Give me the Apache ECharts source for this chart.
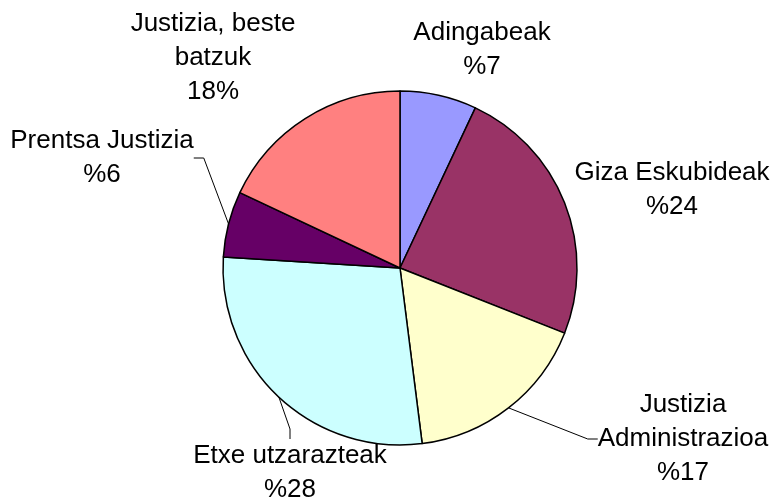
<!DOCTYPE html>
<html>
<head>
<meta charset="utf-8">
<script src="https://cdn.jsdelivr.net/npm/echarts@6/dist/echarts.min.js"></script>
<style>
html,body{margin:0;padding:0;background:#fff;}
#chart{width:774px;height:500px;}
</style>
</head>
<body>
<div id="chart"></div>
<script>
// Data
var categories = ['Adingabeak', 'Giza Eskubideak', 'Justizia\nAdministrazioa', 'Etxe utzarazteak', 'Prentsa Justizia', 'Justizia, beste\nbatzuk'];
var values = [7, 24, 17, 28, 6, 18];
var valueLabels = ['%7', '%24', '%17', '%28', '%6', '18%'];

// Styling / layout (not data)
var colors = ['#9999FF', '#993366', '#FFFFCC', '#CCFFFF', '#660066', '#FF8080'];
var showLine = [false, false, true, true, true, false];
var labelPos = [[482, 50], [672, 190], [683, 439], [290, 473], [102, 158], [213, 58]];

var chart = echarts.init(document.getElementById('chart'), null, {renderer: 'canvas'});
var data = categories.map(function (c, i) {
  return {
    name: c,
    value: values[i],
    itemStyle: {color: colors[i]},
    label: {formatter: c + '\n' + valueLabels[i]},
    labelLine: {show: showLine[i]}
  };
});
chart.setOption({
  animation: false,
  series: [{
    type: 'pie',
    center: [400, 268],
    radius: 177,
    startAngle: 90,
    clockwise: true,
    data: data,
    itemStyle: {borderColor: '#000', borderWidth: 1.5},
    label: {
      show: true,
      color: '#000',
      fontFamily: 'Liberation Sans, Arial, sans-serif',
      fontSize: 26,
      lineHeight: 34,
      align: 'center',
      overflow: 'none'
    },
    labelLine: {
      show: true,
      length: 15,
      length2: 10,
      lineStyle: {color: '#000', width: 1}
    },
    labelLayout: function (params) {
      var p = labelPos[params.dataIndex];
      return {x: p[0], y: p[1], align: 'center', verticalAlign: 'middle'};
    },
    emphasis: {disabled: true}
  }]
});
</script>
</body>
</html>
